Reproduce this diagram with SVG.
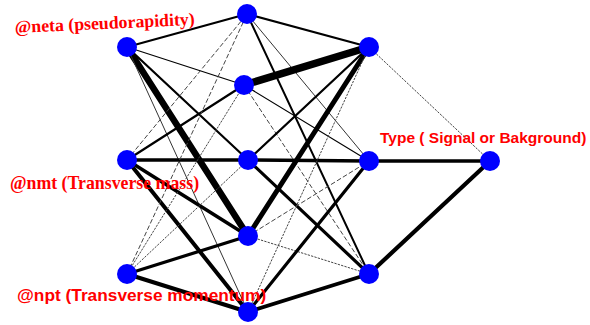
<svg xmlns="http://www.w3.org/2000/svg" width="590" height="325" viewBox="0 0 590 325">
<style>
.n{fill:#0000ff}
.e{stroke:#000;fill:none;stroke-linecap:round}
.th{stroke:#333;stroke-width:1}
.da{stroke:#444;stroke-width:1;stroke-dasharray:4,3}
.do{stroke:#444;stroke-width:1;stroke-dasharray:1.5,2}
.ser{font-family:"Liberation Serif",serif;font-weight:bold;fill:#ff0000;font-size:17.8px}
.san{font-family:"Liberation Sans",Arial,sans-serif;font-weight:bold;fill:#ff0000}
</style>
<rect width="590" height="325" fill="#fff"/>
<g id="connectors" class="e">
<line x1="127" y1="47" x2="247" y2="14" stroke-width="2.2"/>
<line x1="127" y1="47" x2="244" y2="85" stroke-width="1.2"/>
<line x1="127" y1="47" x2="248" y2="160" stroke-width="2.2"/>
<line x1="127" y1="47" x2="248" y2="236" stroke-width="6.5"/>
<line x1="127" y1="47" x2="248" y2="312" class="th"/>
<line x1="127" y1="160" x2="247" y2="14" class="da"/>
<line x1="127" y1="160" x2="244" y2="85" stroke-width="2.2"/>
<line x1="127" y1="160" x2="248" y2="160" stroke-width="3.5"/>
<line x1="127" y1="160" x2="248" y2="236" stroke-width="3.5"/>
<line x1="127" y1="160" x2="248" y2="312" stroke-width="4"/>
<line x1="127" y1="274" x2="247" y2="14" class="da"/>
<line x1="127" y1="274" x2="244" y2="85" class="do"/>
<line x1="127" y1="274" x2="248" y2="160" class="do"/>
<line x1="127" y1="274" x2="248" y2="236" stroke-width="3.2"/>
<line x1="127" y1="274" x2="248" y2="312" stroke-width="4.2"/>
<line x1="247" y1="14" x2="369" y2="47" stroke-width="2.2"/>
<line x1="247" y1="14" x2="369" y2="161" class="th"/>
<line x1="247" y1="14" x2="369" y2="274" stroke-width="2"/>
<line x1="244" y1="85" x2="369" y2="47" stroke-width="7.5"/>
<line x1="244" y1="85" x2="369" y2="161" stroke-width="1.2"/>
<line x1="244" y1="85" x2="369" y2="274" class="da"/>
<line x1="248" y1="160" x2="369" y2="47" stroke-width="2.2"/>
<line x1="248" y1="160" x2="369" y2="161" stroke-width="3.5"/>
<line x1="248" y1="160" x2="369" y2="274" stroke-width="3.2"/>
<line x1="248" y1="236" x2="369" y2="47" stroke-width="5"/>
<line x1="248" y1="236" x2="369" y2="161" class="da"/>
<line x1="248" y1="236" x2="369" y2="274" class="do"/>
<line x1="248" y1="312" x2="369" y2="47" class="do"/>
<line x1="248" y1="312" x2="369" y2="161" stroke-width="3.2"/>
<line x1="248" y1="312" x2="369" y2="274" stroke-width="3.8"/>
<line x1="369" y1="47" x2="490" y2="161" class="do"/>
<line x1="369" y1="161" x2="490" y2="161" stroke-width="3.5"/>
<line x1="369" y1="274" x2="490" y2="161" stroke-width="4.2"/>
</g>
<g id="in-eta"><circle class="n" cx="127" cy="47" r="10"/></g>
<g id="in-mt"><circle class="n" cx="127" cy="160" r="10"/></g>
<g id="in-pt"><circle class="n" cx="127" cy="274" r="10"/></g>
<g id="h1-1"><circle class="n" cx="247" cy="14" r="10"/></g>
<g id="h1-2"><circle class="n" cx="244" cy="85" r="10"/></g>
<g id="h1-3"><circle class="n" cx="248" cy="160" r="10"/></g>
<g id="h1-4"><circle class="n" cx="248" cy="236" r="10"/></g>
<g id="h1-5"><circle class="n" cx="248" cy="312" r="10"/></g>
<g id="h2-1"><circle class="n" cx="369" cy="47" r="10"/></g>
<g id="h2-2"><circle class="n" cx="369" cy="161" r="10"/></g>
<g id="h2-3"><circle class="n" cx="369" cy="274" r="10"/></g>
<g id="out"><circle class="n" cx="490" cy="161" r="10"/></g>
<g id="labels">
<text class="ser" x="15" y="33" transform="rotate(-2.6 15 33)">@neta (pseudorapidity)</text>
<text class="ser" x="10" y="189">@nmt (Transverse mass)</text>
<text class="san" x="17" y="301" font-size="17.3">@npt (Transverse momentum)</text>
<text class="san" x="380" y="143" font-size="15.5">Type ( Signal or Bakground)</text>
</g>
</svg>
